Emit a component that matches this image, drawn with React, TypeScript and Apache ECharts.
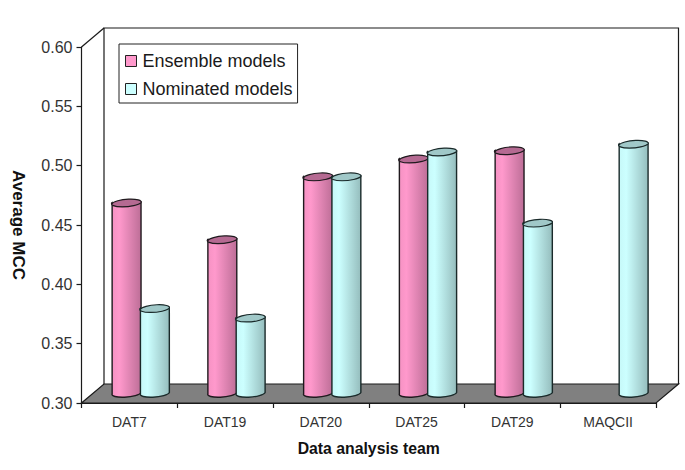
import React, { useEffect, useRef } from "react";
import * as echarts from "echarts";

const categories = ["DAT7", "DAT19", "DAT20", "DAT25", "DAT29", "MAQCII"];
const ensembleValues: (number | null)[] = [0.463, 0.432, 0.485, 0.5, 0.507, null];
const nominatedValues: (number | null)[] = [0.374, 0.366, 0.485, 0.506, 0.446, 0.5125];

const FONT = '"Liberation Sans", Arial, sans-serif';
const DEPTH_X = 22.5;
const DEPTH_Y = 19;
const BAR_W = 29;
const BASE_SHIFT_Y = 7;
const TILT = 5;

const toPoints = (vals: (number | null)[]) =>
  vals.map((v, i) => (v == null ? null : [i, v])).filter(Boolean) as number[][];

function cylinder(
  api: any,
  offset: number,
  stops: string[],
  capColor: string,
  edge: string
) {
  const [cx0, y] = api.coord([api.value(0), api.value(1)]);
  const [, y0] = api.coord([api.value(0), 0.3]);
  const cx = cx0 + offset;
  const rx = BAR_W / 2;
  const ry = 3.9;
  const rad = (TILT * Math.PI) / 180;
  const dx = rx * Math.cos(rad);
  const dy = rx * Math.sin(rad);
  const top = y - BASE_SHIFT_Y;
  const base = y0 - BASE_SHIFT_Y - 3.5;
  const arc = `${rx} ${ry} ${-TILT}`;
  const body =
    `M${cx - dx} ${top + dy} L${cx - dx} ${base + dy} ` +
    `A${arc} 0 0 ${cx + dx} ${base - dy} L${cx + dx} ${top - dy} ` +
    `A${arc} 0 1 ${cx - dx} ${top + dy} Z`;
  const cap =
    `M${cx - dx} ${top + dy} A${arc} 0 1 ${cx + dx} ${top - dy} ` +
    `A${arc} 0 1 ${cx - dx} ${top + dy} Z`;
  return {
    type: "group",
    children: [
      {
        type: "path",
        shape: { pathData: body },
        style: {
          fill: new echarts.graphic.LinearGradient(0, 0, 1, 0, [
            { offset: 0, color: stops[0] },
            { offset: 0.25, color: stops[1] },
            { offset: 1, color: stops[2] },
          ]),
          stroke: edge,
          lineWidth: 1.4,
        },
      },
      {
        type: "path",
        shape: { pathData: cap },
        style: { fill: capColor, stroke: edge, lineWidth: 1.2 },
      },
    ],
  };
}

function App() {
  const ref = useRef<HTMLDivElement>(null);
  useEffect(() => {
    if (!ref.current) return;
    const chart = echarts.init(ref.current, undefined, { renderer: "svg" });
    chart.setOption({
      animation: false,
      backgroundColor: "#ffffff",
      grid: { left: 81.5, right: 29, top: 47, bottom: 67, outerBoundsMode: "none" },
      tooltip: { show: false },
      legend: {
        orient: "vertical",
        left: 119,
        top: 44,
        padding: [8, 5, 5, 6],
        itemGap: 10,
        itemWidth: 11,
        itemHeight: 11,
        backgroundColor: "#ffffff",
        borderColor: "#222222",
        borderWidth: 1,
        selectedMode: false,
        icon: "rect",
        itemStyle: { borderColor: "#222222", borderWidth: 1 },
        textStyle: {
          fontFamily: FONT,
          fontSize: 18,
          color: "#1a1a1a",
          padding: [0, 0, 0, 1],
        },
        data: ["Ensemble models", "Nominated models"],
      },
      xAxis: {
        type: "category",
        data: categories,
        boundaryGap: true,
        name: "Data analysis team",
        nameLocation: "middle",
        nameGap: 37,
        nameTextStyle: { fontFamily: FONT, fontSize: 15.8, fontWeight: "bold", color: "#111111" },
        axisLine: { lineStyle: { color: "#1a1a1a", width: 1.2 } },
        axisTick: { show: true, length: 5, alignWithLabel: false, lineStyle: { color: "#1a1a1a", width: 1.2 } },
        axisLabel: { fontFamily: FONT, fontSize: 14, color: "#333333", margin: 12 },
        splitLine: { show: false },
      },
      yAxis: {
        type: "value",
        min: 0.3,
        max: 0.6,
        interval: 0.05,
        name: "Average MCC",
        nameLocation: "middle",
        nameRotate: -90,
        nameGap: 55,
        nameTextStyle: { fontFamily: FONT, fontSize: 17, fontWeight: "bold", color: "#111111" },
        axisLine: { show: true, lineStyle: { color: "#1a1a1a", width: 1.2 } },
        axisTick: { show: true, length: 5, lineStyle: { color: "#1a1a1a", width: 1.2 } },
        axisLabel: {
          fontFamily: FONT,
          fontSize: 16,
          color: "#333333",
          margin: 9,
          formatter: (v: number) => v.toFixed(2),
        },
        splitLine: { show: false },
      },
      series: [
        {
          type: "custom",
          name: "frame",
          silent: true,
          clip: false,
          z: 1,
          data: [[0, 0.3]],
          encode: { x: 0, y: 1 },
          renderItem: (_p: any, api: any) => {
            const w = api.size([1, 0])[0];
            const [fx, fy] = api.coord([0, 0.3]);
            const left = fx - w / 2;
            const right = left + w * categories.length;
            const topY = api.coord([0, 0.6])[1];
            const line = { stroke: "#1a1a1a", lineWidth: 1.2, fill: "none" };
            return {
              type: "group",
              children: [
                {
                  type: "polygon",
                  shape: {
                    points: [
                      [left, fy],
                      [right, fy],
                      [right + DEPTH_X, fy - DEPTH_Y],
                      [left + DEPTH_X, fy - DEPTH_Y],
                    ],
                  },
                  style: { fill: "#808080", stroke: "#1a1a1a", lineWidth: 1.2 },
                },
                {
                  type: "polyline",
                  shape: {
                    points: [
                      [left + DEPTH_X, fy - DEPTH_Y],
                      [left + DEPTH_X, topY - DEPTH_Y],
                      [right + DEPTH_X, topY - DEPTH_Y],
                      [right + DEPTH_X, fy - DEPTH_Y],
                    ],
                  },
                  style: line,
                },
                {
                  type: "line",
                  shape: { x1: left, y1: topY, x2: left + DEPTH_X, y2: topY - DEPTH_Y },
                  style: line,
                },
              ],
            };
          },
        },
        {
          type: "custom",
          name: "Ensemble models",
          silent: true,
          clip: false,
          z: 3,
          itemStyle: { color: "#ff99cc" },
          data: toPoints(ensembleValues),
          encode: { x: 0, y: 1 },
          renderItem: (_p: any, api: any) =>
            cylinder(api, -2.8, ["#f592c3", "#ff99cc", "#bd6e97"], "#b56a92", "#1f1a1e"),
        },
        {
          type: "custom",
          name: "Nominated models",
          silent: true,
          clip: false,
          z: 4,
          itemStyle: { color: "#ccffff" },
          data: toPoints(nominatedValues),
          encode: { x: 0, y: 1 },
          renderItem: (_p: any, api: any) =>
            cylinder(api, 25.5, ["#c6f8f8", "#ccffff", "#95bdbd"], "#a0c8c8", "#1a2a2a"),
        },
      ],
    });
    return () => chart.dispose();
  }, []);
  return (
    <div
      ref={ref}
      style={{ position: "absolute", left: 0, top: 0, width: 685, height: 470 }}
    />
  );
}

export default App;
